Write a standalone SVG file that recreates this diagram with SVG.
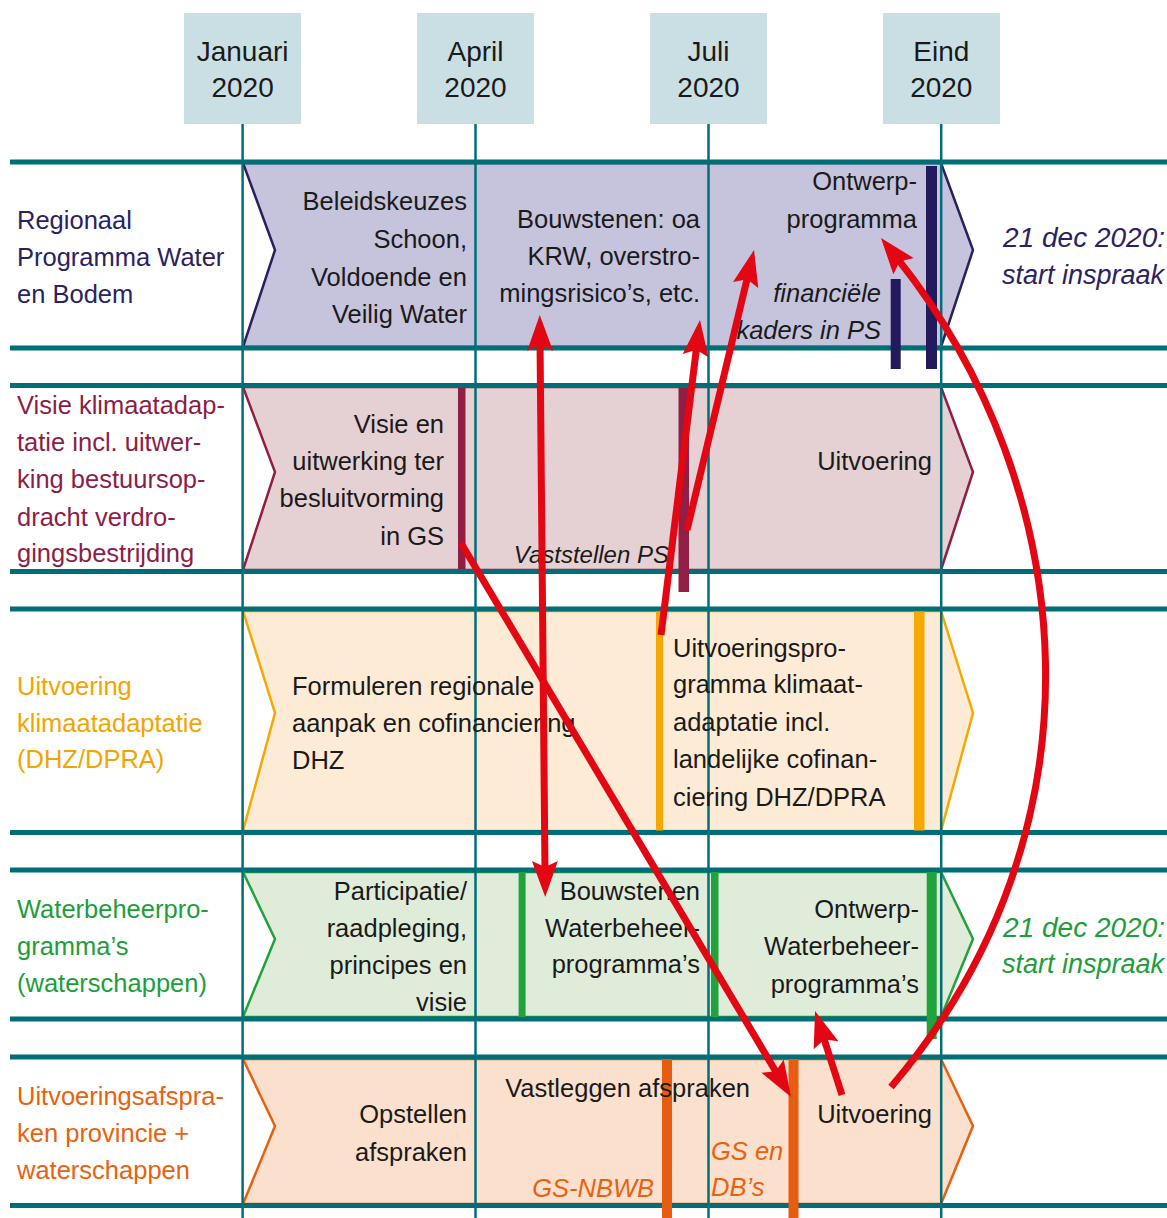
<svg xmlns="http://www.w3.org/2000/svg" width="1167" height="1218" viewBox="0 0 1167 1218">
<style>
text{font-family:"Liberation Sans",Arial,sans-serif;font-size:25.5px;fill:#1a1a1a}
.m{font-size:28px;text-anchor:middle}
.e{text-anchor:end}
.i{font-style:italic}
.big{font-size:28px}
.mid{font-size:27px}
.box{fill:#cadfe3}
.hl{stroke:#006e77;stroke-width:5;fill:none}
.vl{stroke:#006e77;stroke-width:2.5;fill:none}
.arr{stroke:#e30613;stroke-width:7;fill:none;marker-end:url(#ah)}
.navy{fill:#2b2262}.maroon{fill:#8d1d46}.yel{fill:#f2a500}.grn{fill:#1d9e3b}.org{fill:#e8620f}
</style>
<defs>
<marker id="ah" markerUnits="userSpaceOnUse" markerWidth="42" markerHeight="30" viewBox="-40 -15 42 30" refX="-25" refY="0" orient="auto-start-reverse">
<path d="M0,0 L-36,-13 L-30,0 L-36,13 Z" fill="#e30613"/>
</marker>
</defs>
<g id="chevrons">
<g id="row1"><polygon points="243,163 941,163 973,250 941,347 243,347 275,250" fill="#c6c3dd" stroke="#2a1f5f" stroke-width="2.5"/></g>
<g id="row2"><polygon points="243,387 941,387 973,472 941,570 243,570 275,472" fill="#e5d0d3" stroke="#8e1f45" stroke-width="2.5"/></g>
<g id="row3"><polygon points="243,611 941,611 973,713 941,831 243,831 275,713" fill="#fdebd5" stroke="#f5a800" stroke-width="2.5"/></g>
<g id="row4"><polygon points="243,872 941,872 973,939 941,1017 243,1017 275,939" fill="#dfecd9" stroke="#1fa33a" stroke-width="2.5"/></g>
<g id="row5"><polygon points="243,1059 941,1059 973,1126 941,1204 243,1204 275,1126" fill="#fbe0cd" stroke="#e8600f" stroke-width="2.5"/></g>
</g>
<g id="grid">
<line class="vl" x1="242.6" y1="124" x2="242.6" y2="1218"/>
<line class="vl" x1="475.5" y1="124" x2="475.5" y2="1218"/>
<line class="vl" x1="708.5" y1="124" x2="708.5" y2="1218"/>
<line class="vl" x1="941.2" y1="124" x2="941.2" y2="1218"/>
<line class="hl" x1="10" y1="162" x2="1167" y2="162"/>
<line class="hl" x1="10" y1="348" x2="1167" y2="348"/>
<line class="hl" x1="10" y1="385.5" x2="1167" y2="385.5"/>
<line class="hl" x1="10" y1="571.5" x2="1167" y2="571.5"/>
<line class="hl" x1="10" y1="609" x2="1167" y2="609"/>
<line class="hl" x1="10" y1="832.5" x2="1167" y2="832.5"/>
<line class="hl" x1="10" y1="870" x2="1167" y2="870"/>
<line class="hl" x1="10" y1="1019" x2="1167" y2="1019"/>
<line class="hl" x1="10" y1="1057" x2="1167" y2="1057"/>
<line class="hl" x1="10" y1="1205.5" x2="1167" y2="1205.5"/>
</g>
<g id="months">
<g id="m-jan"><rect class="box" x="184" y="13" width="117" height="111"/><text class="m" x="242.6" y="61">Januari</text><text class="m" x="242.6" y="97">2020</text></g>
<g id="m-apr"><rect class="box" x="417" y="13" width="117" height="111"/><text class="m" x="475.5" y="61">April</text><text class="m" x="475.5" y="97">2020</text></g>
<g id="m-jul"><rect class="box" x="650" y="13" width="117" height="111"/><text class="m" x="708.5" y="61">Juli</text><text class="m" x="708.5" y="97">2020</text></g>
<g id="m-eind"><rect class="box" x="883" y="13" width="117" height="111"/><text class="m" x="941.3" y="61">Eind</text><text class="m" x="941.3" y="97">2020</text></g>
</g>
<g id="bars">
<rect x="890.7" y="279" width="10" height="90" fill="#231a5e"/>
<rect x="926" y="166" width="11" height="203" fill="#231a5e"/>
<rect x="458" y="388" width="7.5" height="181" fill="#921d45"/>
<rect x="678.5" y="388" width="10.5" height="204" fill="#921d45"/>
<rect x="656" y="611.5" width="7" height="219" fill="#f5a800"/>
<rect x="914" y="611.5" width="10.5" height="219" fill="#f5a800"/>
<rect x="518.6" y="872" width="7" height="145" fill="#1fa33a"/>
<rect x="711" y="872" width="7.5" height="145" fill="#1fa33a"/>
<rect x="926.7" y="872" width="10" height="167" fill="#1fa33a"/>
<rect x="662" y="1059" width="10" height="159" fill="#e65d0f"/>
<rect x="788.5" y="1059" width="10" height="159" fill="#e65d0f"/>
</g>
<g id="labels-row1">
<text class="navy" x="17" y="229">Regionaal</text>
<text class="navy" x="17" y="266">Programma Water</text>
<text class="navy" x="17" y="303">en Bodem</text>
<text class="e" x="467" y="210">Beleidskeuzes</text>
<text class="e" x="467" y="248">Schoon,</text>
<text class="e" x="467" y="286">Voldoende en</text>
<text class="e" x="467" y="323">Veilig Water</text>
<text class="e" x="700" y="228">Bouwstenen: oa</text>
<text class="e" x="700" y="265">KRW, overstro-</text>
<text class="e" x="700" y="302">mingsrisico’s, etc.</text>
<text class="e" x="917" y="190">Ontwerp-</text>
<text class="e" x="917" y="228">programma</text>
<text class="e i" x="881" y="302">financiële</text>
<text class="e i" x="881" y="339">kaders in PS</text>
<text class="e i big navy" x="1165" y="247">21 dec 2020:</text>
<text class="e i mid navy" x="1164" y="284">start inspraak</text>
</g>
<g id="labels-row2">
<text class="maroon" x="17" y="414">Visie klimaatadap-</text>
<text class="maroon" x="17" y="451">tatie incl. uitwer-</text>
<text class="maroon" x="17" y="488">king bestuursop-</text>
<text class="maroon" x="17" y="526">dracht verdro-</text>
<text class="maroon" x="17" y="562">gingsbestrijding</text>
<text class="e" x="444" y="433">Visie en</text>
<text class="e" x="444" y="470">uitwerking ter</text>
<text class="e" x="444" y="507">besluitvorming</text>
<text class="e" x="444" y="545">in GS</text>
<text class="e i" x="669" y="563" style="font-size:24px">Vaststellen PS</text>
<text class="e" x="932" y="470">Uitvoering</text>
</g>
<g id="labels-row3">
<text class="yel" x="17" y="695">Uitvoering</text>
<text class="yel" x="17" y="732">klimaatadaptatie</text>
<text class="yel" x="17" y="768">(DHZ/DPRA)</text>
<text x="292" y="695">Formuleren regionale</text>
<text x="292" y="732">aanpak en cofinanciering</text>
<text x="292" y="769">DHZ</text>
<text x="673" y="657">Uitvoeringspro-</text>
<text x="673" y="693">gramma klimaat-</text>
<text x="673" y="731">adaptatie incl.</text>
<text x="673" y="768">landelijke cofinan-</text>
<text x="673" y="806">ciering DHZ/DPRA</text>
</g>
<g id="labels-row4">
<text class="grn" x="17" y="918">Waterbeheerpro-</text>
<text class="grn" x="17" y="955">gramma’s</text>
<text class="grn" x="17" y="992">(waterschappen)</text>
<text class="e" x="467" y="900">Participatie/</text>
<text class="e" x="467" y="937">raadpleging,</text>
<text class="e" x="467" y="974">principes en</text>
<text class="e" x="467" y="1011">visie</text>
<text class="e" x="700" y="900">Bouwstenen</text>
<text class="e" x="700" y="937">Waterbeheer-</text>
<text class="e" x="700" y="973">programma’s</text>
<text class="e" x="919" y="918">Ontwerp-</text>
<text class="e" x="919" y="955">Waterbeheer-</text>
<text class="e" x="919" y="993">programma’s</text>
<text class="e i big grn" x="1165" y="937">21 dec 2020:</text>
<text class="e i mid grn" x="1164" y="973">start inspraak</text>
</g>
<g id="labels-row5">
<text class="org" x="17" y="1105">Uitvoeringsafspra-</text>
<text class="org" x="17" y="1142">ken provincie +</text>
<text class="org" x="17" y="1179">waterschappen</text>
<text class="e" x="467" y="1123">Opstellen</text>
<text class="e" x="467" y="1161">afspraken</text>
<text class="e" x="750" y="1097">Vastleggen afspraken</text>
<text class="e i org" x="654" y="1197">GS-NBWB</text>
<text class="i org" x="711" y="1160">GS en</text>
<text class="i org" x="711" y="1196">DB’s</text>
<text class="e" x="932" y="1123">Uitvoering</text>
</g>
<g id="connectors">
<line class="arr" x1="540" y1="340" x2="545" y2="872" style="marker-start:url(#ah)"/>
<line class="arr" x1="661" y1="635" x2="696.9" y2="344.8"/>
<line class="arr" x1="687" y1="530" x2="748.2" y2="274.3"/>
<line class="arr" x1="461" y1="543" x2="778.2" y2="1075.5"/>
<line class="arr" x1="842" y1="1095" x2="822.7" y2="1034.8"/>
<path class="arr" d="M891,1087 C1111,830 1081,488 896.6,257.5"/>
</g>
</svg>
